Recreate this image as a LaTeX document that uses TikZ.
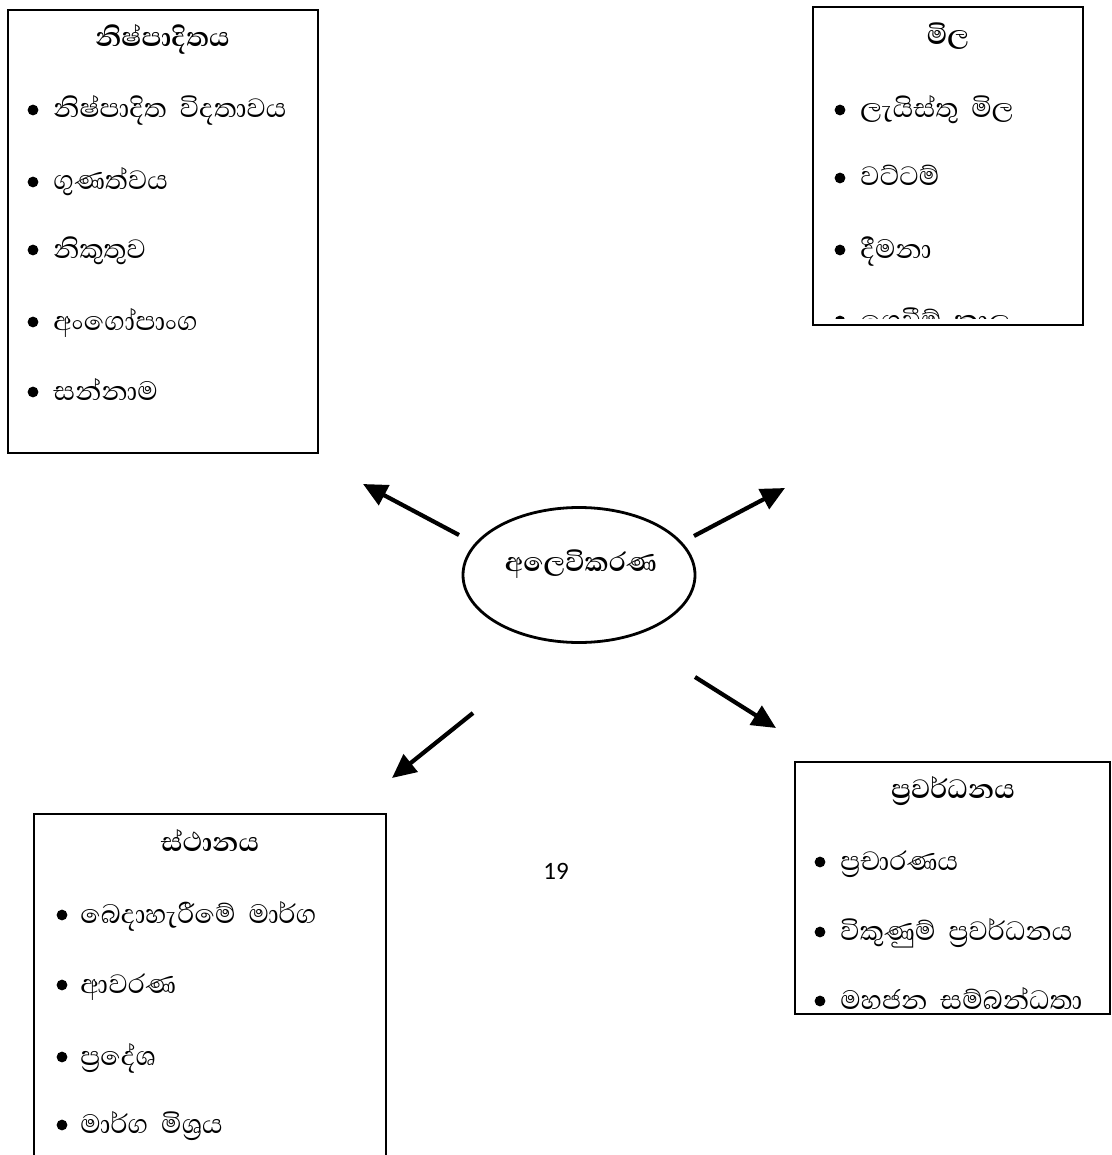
\documentclass[tikz,border=0pt]{standalone}
\usepackage{fontspec}
\newfontfamily\sinhala[Script=Sinhala]{Abhaya Libre}
\newfontfamily\numfont{Carlito}
\usetikzlibrary{arrows.meta,shapes.geometric}
\begin{document}
\begin{tikzpicture}[x=0.5pt,y=-0.5pt,
  panel/.style={draw=black,line width=0.8pt},
  heading/.style={font=\sinhala\bfseries\fontsize{17}{20}\selectfont,anchor=base,inner sep=0pt},
  entry/.style={font=\sinhala\fontsize{17}{20}\selectfont,anchor=base west,inner sep=0pt},
  dot/.style={circle,fill=black,inner sep=0pt,minimum size=5.4pt},
  bigarrow/.style={line width=2.1pt,-{Triangle[length=12pt,width=11pt]}}]
\useasboundingbox (0,0) rectangle (1112,1155);
\fill[white] (0,0) rectangle (1112,1155);

% --- product box (top left)
\draw[panel] (8,10) rectangle (318,453);
\node[heading] (prodH) at (162.5,47) {නිෂ්පාදිතය};
\node[dot] (p1) at (33,110) {};
\node[entry] (p1t) at (53,118) {නිෂ්පාදිත\ \ විදතාවය};
\node[dot] (p2) at (33,182) {};
\node[entry] (p2t) at (53,190) {ගුණත්වය};
\node[dot] (p3) at (33,250) {};
\node[entry] (p3t) at (53,258) {නිකුතුව};
\node[dot] (p4) at (33,322) {};
\node[entry] (p4t) at (53,330) {අංගෝපාංග};
\node[dot] (p5) at (33,392) {};
\node[entry] (p5t) at (53,400) {සන්නාම};

% --- price box (top right), last line cut by the frame
\draw[panel] (813,7) rectangle (1083,325);
\node[heading] (priceH) at (948,45) {මිල};
\node[dot] (m1) at (840,110) {};
\node[entry] (m1t) at (860,118) {ලැයිස්තු\ \ මිල};
\node[dot] (m2) at (840,178) {};
\node[entry] (m2t) at (860,186) {වට්ටම්};
\node[dot] (m3) at (840,250) {};
\node[entry] (m3t) at (860,258) {දීමනා};
\begin{scope}
  \clip (813,7) rectangle (1083,318);
  \node[dot] (m4) at (840,321) {};
  \node[entry] (m4t) at (860,329) {ගෙවීම්\ \ කාල};
\end{scope}

% --- place box (bottom left), runs off the lower edge
\draw[panel] (34,1160) -- (34,814) -- (386,814) -- (386,1160);
\node[heading] (placeH) at (210,851) {ස්ථානය};
\node[dot] (s1) at (62,915) {};
\node[entry] (s1t) at (80,923) {බෙදාහැරීමේ\ \ මාර්ග};
\node[dot] (s2) at (62,985) {};
\node[entry] (s2t) at (80,993) {ආවරණ};
\node[dot] (s3) at (62,1057) {};
\node[entry] (s3t) at (80,1065) {ප්‍රදේශ};
\node[dot] (s4) at (62,1125) {};
\node[entry] (s4t) at (80,1133) {මාර්ග\ \ මිශ්‍රය};

% --- promotion box (bottom right)
\draw[panel] (795,762) rectangle (1110,1014);
\node[heading] (promoH) at (953,798) {ප්‍රවර්ධනය};
\node[dot] (r1) at (820,862) {};
\node[entry] (r1t) at (840,870) {ප්‍රචාරණය};
\node[dot] (r2) at (820,932) {};
\node[entry] (r2t) at (840,940) {විකුණුම්\ \ ප්‍රවර්ධනය};
\node[dot] (r3) at (820,1001) {};
\node[entry] (r3t) at (840,1009) {මහජන\ \ සම්බන්ධතා};

% --- centre
\node[ellipse,draw=black,line width=1.4pt,minimum width=116pt,minimum height=67.5pt,inner sep=0pt] (core) at (579,575) {};
\node[heading] (coreT) at (581,571) {අලෙවිකරණ};

% --- arrows pointing out from the centre
\coordinate (ulA) at (459,535); \coordinate (ulB) at (363,484);
\coordinate (urA) at (694,536); \coordinate (urB) at (785,488);
\coordinate (lrA) at (695,677); \coordinate (lrB) at (776,728);
\coordinate (llA) at (473,713); \coordinate (llB) at (392,778);
\draw[bigarrow] (ulA) -- (ulB);
\draw[bigarrow] (urA) -- (urB);
\draw[bigarrow] (lrA) -- (lrB);
\draw[bigarrow] (llA) -- (llB);

% --- page number
\node[font=\numfont\fontsize{12.5}{15}\selectfont,inner sep=0pt] (pageNo) at (556,871) {19};
\end{tikzpicture}
\end{document}
